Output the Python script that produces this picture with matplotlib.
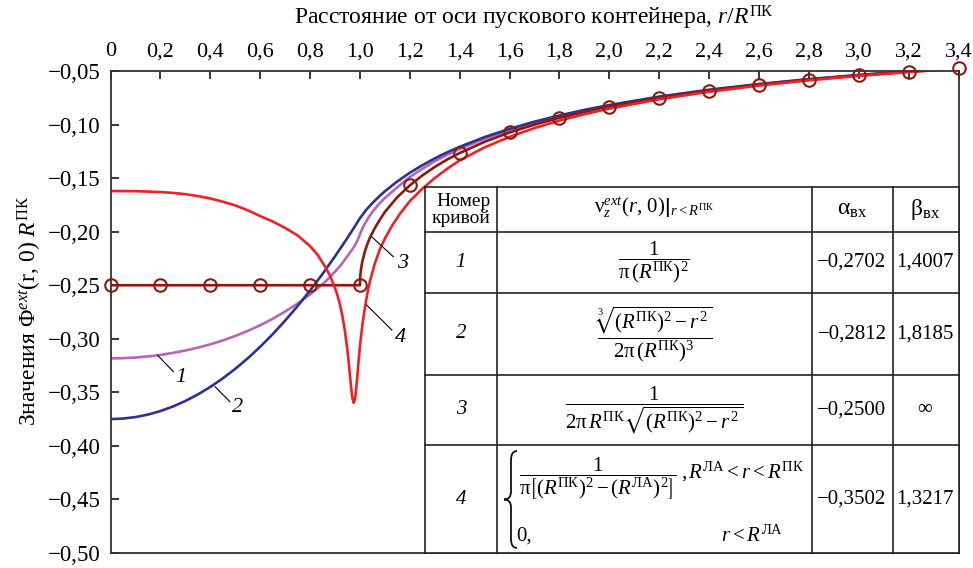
import matplotlib
matplotlib.use('Agg')
import matplotlib.pyplot as plt
from matplotlib.path import Path
from matplotlib.patches import PathPatch, Rectangle

plt.rcParams['font.family'] = ['Liberation Serif', 'DejaVu Serif']
plt.rcParams['mathtext.fontset'] = 'custom'
plt.rcParams['mathtext.rm'] = 'Liberation Serif'
plt.rcParams['mathtext.it'] = 'Liberation Serif:italic'
plt.rcParams['mathtext.bf'] = 'Liberation Serif:bold'
plt.rcParams['mathtext.fallback'] = 'stix'

# кривая 1 - равномерная плотность
r1 = [0, 0.05, 0.1, 0.15, 0.2, 0.25, 0.3, 0.35, 0.4, 0.45, 0.5, 0.55, 0.6, 0.65, 0.7,
      0.75, 0.8, 0.85, 0.875, 0.9, 0.925, 0.95, 0.97, 0.98, 0.99, 1.0, 1.01, 1.02,
      1.035, 1.05, 1.075, 1.1, 1.15, 1.2, 1.25, 1.3, 1.35, 1.4, 1.5, 1.6, 1.7, 1.8,
      1.9, 2.0, 2.2, 2.4, 2.6, 2.8, 3.0, 3.2, 3.4]
v1 = [-0.3183, -0.3181, -0.3175, -0.3165, -0.3151, -0.3132, -0.3110, -0.3083, -0.3052,
      -0.3016, -0.2974, -0.2927, -0.2874, -0.2814, -0.2746, -0.2672, -0.2586, -0.2492,
      -0.2435, -0.2374, -0.2308, -0.2229, -0.2164, -0.2127, -0.2084, -0.2026, -0.1969,
      -0.1925, -0.1866, -0.1816, -0.1745, -0.1686, -0.1585, -0.1490, -0.1413, -0.1343,
      -0.1283, -0.1228, -0.1133, -0.1052, -0.0983, -0.0923, -0.0870, -0.0823, -0.0744,
      -0.0679, -0.0624, -0.0578, -0.0538, -0.0504, -0.0473]

# кривая 2
r2 = [0, 0.05, 0.1, 0.15, 0.2, 0.25, 0.3, 0.35, 0.4, 0.45, 0.5, 0.55, 0.6, 0.65, 0.7,
      0.75, 0.8, 0.85, 0.9, 0.95, 0.975, 1.0, 1.025, 1.05, 1.075, 1.1, 1.15, 1.2, 1.25,
      1.3, 1.35, 1.4, 1.5, 1.6, 1.7, 1.8, 1.9, 2.0, 2.2, 2.4, 2.6, 2.8, 3.0, 3.2, 3.4]
v2 = [-0.375, -0.3745, -0.3731, -0.3708, -0.3675, -0.3633, -0.3581, -0.3520, -0.345,
      -0.3370, -0.3281, -0.3183, -0.3075, -0.2958, -0.2831, -0.2695, -0.255, -0.2395,
      -0.2231, -0.2058, -0.1968, -0.1875, -0.1797, -0.1733, -0.1676, -0.1623, -0.1531,
      -0.1450, -0.1380, -0.1316, -0.1259, -0.1208, -0.1117, -0.1040, -0.0973, -0.0915,
      -0.0863, -0.0818, -0.0739, -0.0675, -0.0622, -0.0576, -0.0537, -0.0503, -0.0472]

# кривая 3
r3 = [0, 1.0, 1.001, 1.002, 1.005, 1.01, 1.02, 1.03, 1.04, 1.06, 1.08, 1.1, 1.15, 1.2,
      1.25, 1.3, 1.35, 1.4, 1.5, 1.6, 1.7, 1.8, 1.9, 2.0, 2.2, 2.4, 2.6, 2.8, 3.0, 3.2,
      3.4]
v3 = [-0.25, -0.25, -0.2429, -0.2399, -0.234, -0.2276, -0.2184, -0.2114, -0.2057,
      -0.1965, -0.1888, -0.1816, -0.1678, -0.1568, -0.1476, -0.1396, -0.1326, -0.1266,
      -0.1161, -0.1074, -0.1001, -0.0937, -0.0882, -0.0833, -0.0751, -0.0684, -0.0628,
      -0.0581, -0.0541, -0.0506, -0.0475]
r3_marks = [0, 0.2, 0.4, 0.6, 0.8, 1.0, 1.2, 1.4, 1.6, 1.8, 2.0, 2.2, 2.4, 2.6, 2.8,
            3.0, 3.2, 3.4]
v3_marks = [-0.25, -0.25, -0.25, -0.25, -0.25, -0.25, -0.1568, -0.1266, -0.1074,
            -0.0937, -0.0833, -0.0751, -0.0684, -0.0628, -0.0581, -0.0541, -0.0506,
            -0.0475]

# кривая 4 - кольцо
r4 = [0, 0.1, 0.2, 0.25, 0.3, 0.35, 0.4, 0.45, 0.5, 0.55, 0.6, 0.65, 0.7, 0.75, 0.8,
      0.83, 0.86, 0.88, 0.9, 0.91, 0.92, 0.93, 0.94, 0.95, 0.955, 0.96, 0.965, 0.97,
      0.975, 0.98, 0.985, 0.99, 0.995, 1.0, 1.01, 1.02, 1.03, 1.04, 1.06, 1.08, 1.1,
      1.13, 1.16, 1.2, 1.25, 1.3, 1.35, 1.4, 1.5, 1.6, 1.7, 1.8, 1.9, 2.0, 2.2, 2.4,
      2.6, 2.8, 3.0, 3.2, 3.4]
v4 = [-0.162, -0.1622, -0.163, -0.1638, -0.165, -0.1668, -0.169, -0.172, -0.1755,
      -0.180, -0.1855, -0.1905, -0.1965, -0.2035, -0.2135, -0.2215, -0.2325, -0.2410,
      -0.2525, -0.2595, -0.2680, -0.2790, -0.2930, -0.3110, -0.3220, -0.3340, -0.3460,
      -0.3555, -0.3597, -0.3565, -0.3470, -0.3340, -0.3200, -0.3070, -0.2870, -0.2710,
      -0.2575, -0.2465, -0.2295, -0.2165, -0.2065, -0.1940, -0.1835, -0.1715, -0.1600,
      -0.1500, -0.1413, -0.1334, -0.1213, -0.1115, -0.1033, -0.0963, -0.0904, -0.0851,
      -0.0764, -0.0694, -0.0636, -0.0587, -0.0546, -0.0510, -0.0478]

xticks = [0, 0.2, 0.4, 0.6, 0.8, 1.0, 1.2, 1.4, 1.6, 1.8, 2.0, 2.2, 2.4, 2.6, 2.8, 3.0,
          3.2, 3.4]
xtick_labels = ['0', '0,2', '0,4', '0,6', '0,8', '1,0', '1,2', '1,4', '1,6', '1,8',
                '2,0', '2,2', '2,4', '2,6', '2,8', '3,0', '3,2', '3,4']
yticks = [-0.05, -0.10, -0.15, -0.20, -0.25, -0.30, -0.35, -0.40, -0.45, -0.50]
ytick_labels = ['−0,05', '−0,10', '−0,15', '−0,20', '−0,25', '−0,30', '−0,35',
                '−0,40', '−0,45', '−0,50']

curve_nums = ['1', '2', '3', '4']
alphas = ['−0,2702', '−0,2812', '−0,2500', '−0,3502']
betas = ['1,4007', '1,8185', '∞', '1,3217']

RED = '#EE2028'
BLUE = '#2E3192'
PURPLE = '#B666B6'
BROWN = '#8B1A0E'

fig = plt.figure(figsize=(9.73, 5.68), dpi=100)
ax = fig.add_axes([110.5 / 973, 1 - 553 / 568, 848 / 973, 482 / 568])


def af(px, py):  # пиксели -> доли осей
    return (px - 110.5) / 848, (553 - py) / 482


ax.plot(r1, v1, color=PURPLE, lw=1.9, zorder=2)
ax.plot(r2, v2, color=BLUE, lw=1.9, zorder=2)
ax.plot(r3, v3, color=BROWN, lw=1.9, zorder=2.2)
ax.plot(r4, v4, color=RED, lw=1.9, zorder=2.4)
ax.plot(r3_marks, v3_marks, ls='none', marker='o', ms=9, mfc='none', mec=BROWN,
        mew=1.5, zorder=2.6, clip_on=False)

# выноски
leaders = [((0.189, -0.3154), (0.252, -0.3307), (0.282, -0.3365)),
           ((0.419, -0.3447), (0.479, -0.3588), (0.508, -0.3645)),
           ((1.047, -0.2047), (1.134, -0.2234), (1.170, -0.2300)),
           ((1.027, -0.2685), (1.128, -0.2918), (1.163, -0.2990))]
for (p0, p1, pt), num in zip(leaders, curve_nums):
    ax.plot([p0[0], p1[0]], [p0[1], p1[1]], color='black', lw=0.8, zorder=3)
    ax.text(pt[0], pt[1], num, fontsize=16, style='italic', ha='center', va='center')

ax.set_xlim(0, 3.4)
ax.set_ylim(-0.5, -0.05)
ax.set_xticks(xticks)
ax.set_xticklabels(xtick_labels)
ax.set_yticks(yticks)
ax.set_yticklabels(ytick_labels)
ax.tick_params(axis='x', which='both', top=True, bottom=False, labeltop=True,
               labelbottom=False, direction='in', length=6, width=1.1, pad=7,
               labelsize=16)
ax.tick_params(axis='y', which='both', left=True, right=False, direction='in',
               length=6, width=1.1, pad=7, labelsize=16.5)
for s in ax.spines.values():
    s.set_linewidth(1.3)
    s.set_color('#333333')

fig.text(534.5 / 973, 1 - 18 / 568,
         'Расстояние от оси пускового контейнера, $r/R^{\\mathrm{ПК}}$',
         ha='center', va='center', fontsize=17)
fig.text(30 / 973, 1 - 311 / 568,
         'Значения Φ$^{ext}$(r, 0) $R^{\\mathrm{ПК}}$',
         ha='center', va='center', rotation=90, fontsize=17)

# таблица
cols = [425, 497, 812, 893, 958.5]
rows = [187, 232, 293, 375, 445, 553]
x0, y0 = af(cols[0], rows[-1])
x1, y1 = af(cols[-1], rows[0])
ax.add_patch(Rectangle((x0, y0), x1 - x0, y1 - y0, transform=ax.transAxes,
                       facecolor='white', edgecolor='none', zorder=4))
for py in rows:
    a, b = af(cols[0], py)
    c, _ = af(cols[-1], py)
    ax.plot([a, c], [b, b], transform=ax.transAxes, color='#222222', lw=1.2,
            zorder=5, clip_on=False)
for px in cols:
    a, b = af(px, rows[0])
    _, d = af(px, rows[-1])
    ax.plot([a, a], [b, d], transform=ax.transAxes, color='#222222', lw=1.2,
            zorder=5, clip_on=False)


def cell_text(px, py, s, **kw):
    x, y = af(px, py)
    kw.setdefault('fontsize', 15)
    kw.setdefault('ha', 'center')
    kw.setdefault('va', 'center')
    ax.text(x, y, s, transform=ax.transAxes, zorder=6, **kw)


cell_text(461, 210, 'Номер\nкривой', fontsize=14, multialignment='right',
          linespacing=1.0)
cell_text(654, 208, r'$\left.\mathrm{\nu}_z^{ext}(r,\,0)\right|_{r<R^{\mathrm{ПК}}}$')
cell_text(852, 210, r'$\mathrm{\alpha}_{\mathrm{вх}}$', fontsize=17)
cell_text(925, 210, r'$\mathrm{\beta}_{\mathrm{вх}}$', fontsize=17)

row_mid = [(rows[i] + rows[i + 1]) / 2 for i in range(1, 5)]
formulas = [r'$\dfrac{1}{\mathrm{\pi}\,(R^{\mathrm{ПК}})^2}$',
            r'$\dfrac{\sqrt[3]{(R^{\mathrm{ПК}})^2-r^{\,2}}}{2\mathrm{\pi}\,(R^{\mathrm{ПК}})^3}$',
            r'$\dfrac{1}{2\mathrm{\pi}\,R^{\mathrm{ПК}}\sqrt{(R^{\mathrm{ПК}})^2-r^{\,2}}}$']
for i in range(4):
    cell_text(461, row_mid[i], curve_nums[i], style='italic')
    cell_text(852, row_mid[i], alphas[i])
    cell_text(925, row_mid[i], betas[i])
for i in range(3):
    cell_text(654, row_mid[i], formulas[i])

# строка 4: фигурная скобка
bx_t, bx_m, bx_p = 517, 511, 504
bt, bb = 451, 548
bm = (bt + bb) / 2
pts = [(bx_t, bt), (bx_m, bt), (bx_m, bt + 9), (bx_m, bm - 8), (bx_m, bm), (bx_p, bm),
       (bx_m, bm), (bx_m, bm + 8), (bx_m, bb - 9), (bx_m, bb), (bx_t, bb)]
codes = [Path.MOVETO, Path.CURVE3, Path.CURVE3, Path.LINETO, Path.CURVE3, Path.CURVE3,
         Path.CURVE3, Path.CURVE3, Path.LINETO, Path.CURVE3, Path.CURVE3]
ax.add_patch(PathPatch(Path([af(*p) for p in pts], codes), transform=ax.transAxes,
                       fill=False, lw=1.3, edgecolor='#111111', zorder=6,
                       clip_on=False))
cell_text(598, 478,
          r'$\dfrac{1}{\mathrm{\pi}\left[(R^{\mathrm{ПК}})^2-(R^{\mathrm{ЛА}})^2\right]}$')
cell_text(681, 472, r',$\,R^{\mathrm{ЛА}}<r<R^{\mathrm{ПК}}$', ha='left')
cell_text(516, 536, '0,', ha='left')
cell_text(721, 536, r'$r<R^{\mathrm{ЛА}}$', ha='left')

fig.savefig('out.png', dpi=100)
